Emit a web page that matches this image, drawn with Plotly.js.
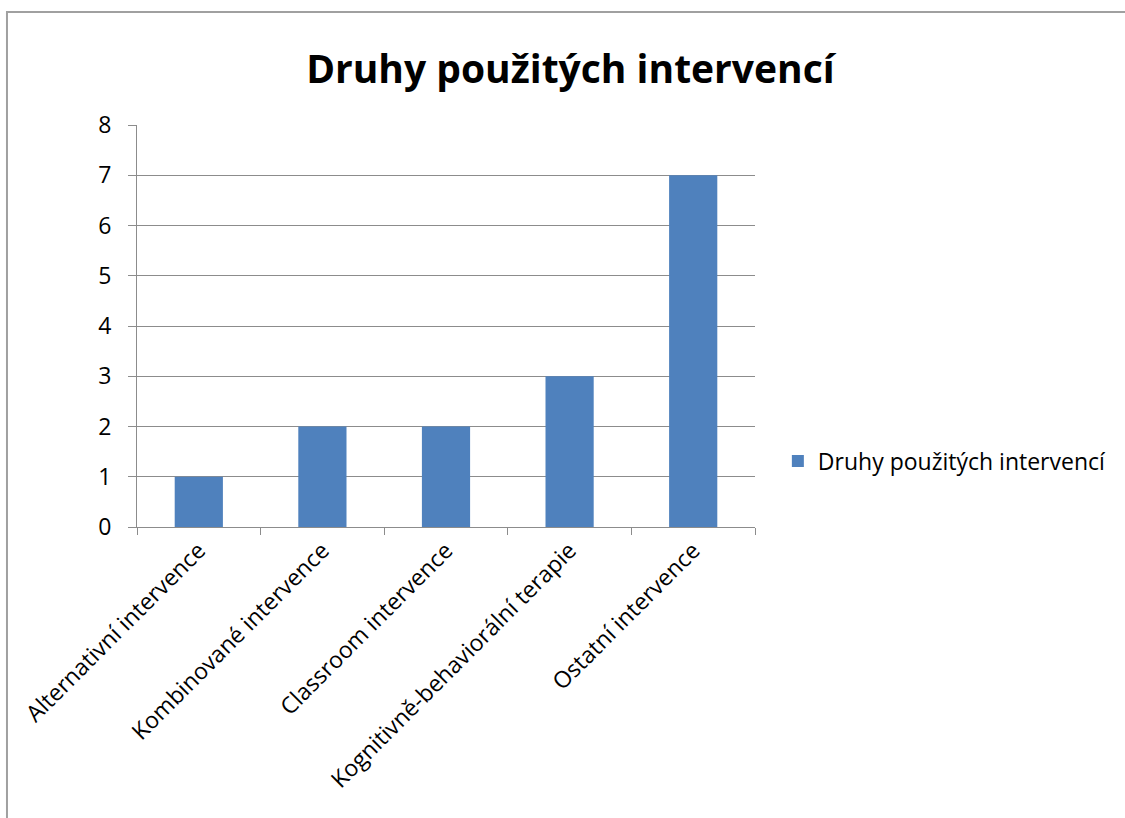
<!DOCTYPE html>
<html>
<head>
<meta charset="utf-8">
<script src="https://cdn.plot.ly/plotly-3.0.1.min.js"></script>
<style>html,body{margin:0;padding:0;background:#fff;}#chart{width:1125px;height:818px;}</style>
</head>
<body>
<div id="chart"></div>
<script>
const categories = ["Alternativní intervence", "Kombinované intervence", "Classroom intervence", "Kognitivně-behaviorální terapie", "Ostatní intervence"];
const values = [1, 2, 2, 3, 7];
const seriesName = "Druhy použitých intervencí";
const yTicks = [0, 1, 2, 3, 4, 5, 6, 7, 8];

const FONT = "'Open Sans', Lato, sans-serif";
const trace = {
  type: "bar",
  x: categories,
  y: values,
  name: seriesName,
  marker: {color: "#4f81bd"},
  showlegend: true
};
const layout = {
  width: 1125, height: 818,
  margin: {l: 137, r: 370, t: 125, b: 291},
  paper_bgcolor: "#ffffff", plot_bgcolor: "#ffffff",
  font: {family: FONT, color: "#000", size: 23},
  title: {text: "<b>Druhy použitých intervencí</b>", font: {family: FONT, size: 39, color: "#000"}, x: 0.507, xanchor: "center", y: 0.915, yanchor: "middle"},
  bargap: 0.61,
  showlegend: true,
  legend: {x: 1.037, xanchor: "left", y: 0.164, yanchor: "middle", font: {family: FONT, size: 23, color: "#000"}, bgcolor: "rgba(0,0,0,0)"},
  xaxis: {
    type: "category",
    tickangle: -45,
    ticks: "outside", ticklen: 7, tickcolor: "#8c8c8c", tickwidth: 1,
    tickson: "boundaries",
    showline: true, linecolor: "#8c8c8c", linewidth: 1,
    showgrid: false,
    tickfont: {family: FONT, size: 23, color: "#000"},
    automargin: false
  },
  yaxis: {
    range: [0, 8],
    tickvals: yTicks,
    ticktext: yTicks.map(String),
    ticks: "outside", ticklen: 8, tickcolor: "#8c8c8c",
    showline: true, linecolor: "#8c8c8c", linewidth: 1,
    showgrid: true, gridcolor: "#8c8c8c", gridwidth: 1,
    zeroline: false,
    tickfont: {family: FONT, size: 23, color: "#000"},
    ticklabelstandoff: 12,
    automargin: false
  },
  shapes: [{
    type: "rect", xref: "paper", yref: "paper",
    x0: -0.2104, x1: 2.0, y0: -2.0, y1: 1.281,
    line: {color: "#a0a0a0", width: 2}, fillcolor: "rgba(0,0,0,0)", layer: "below"
  }]
};
Plotly.newPlot("chart", [trace], layout, {displayModeBar: false, staticPlot: true});
</script>
</body>
</html>
